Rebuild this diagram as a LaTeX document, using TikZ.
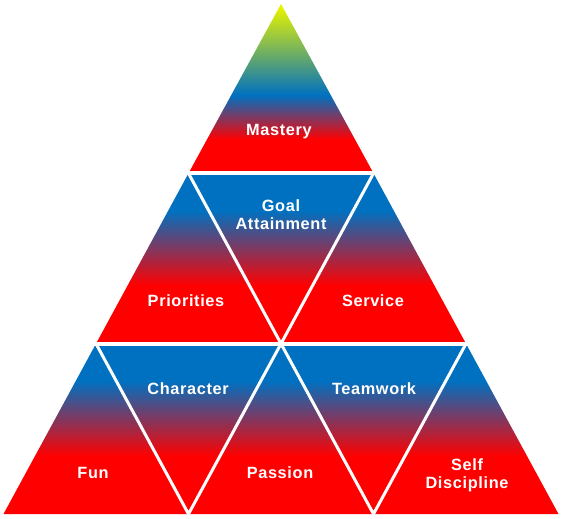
\documentclass[tikz,border=0pt]{standalone}
\usepackage{fontspec}
\setsansfont{Liberation Sans}[LetterSpace=4]
\usepackage{tikz}

\definecolor{tierblue}{RGB}{0,112,192}
\definecolor{tierred}{RGB}{255,0,0}
\definecolor{tipyellow}{RGB}{230,242,0}

\pgfdeclareverticalshading{tiershade}{100bp}{color(0bp)=(tierred); color(42bp)=(tierred); color(64bp)=(tierblue); color(100bp)=(tierblue)}
\pgfdeclareverticalshading{tipshade}{100bp}{color(0bp)=(tierred); color(35bp)=(tierred); color(48bp)=(tierblue); color(74bp)=(tipyellow); color(100bp)=(tipyellow)}

\tikzset{
  tierlabel/.style={text=white, font=\sffamily\bfseries\fontsize{16.3}{17.5}\selectfont, align=center, inner sep=0pt},
  rowgap/.style={draw=white, line width=4, shorten <=-4, shorten >=-4},
  slantgap/.style={draw=white, line width=3}
}

\begin{document}
\begin{tikzpicture}[x=1pt, y=-1pt]
            \useasboundingbox (0,0) rectangle (562,519);

            % corners of the pyramid, row by row
            \coordinate (A) at (281, 4);
            \coordinate (B1) at (188.5, 173.3);
            \coordinate (B2) at (373.5, 173.3);
            \coordinate (C1) at (96, 343.7);
            \coordinate (C2) at (281, 343.7);
            \coordinate (C3) at (466, 343.7);
            \coordinate (D1) at (3.5, 514);
            \coordinate (D2) at (188.5, 514);
            \coordinate (D3) at (373.5, 514);
            \coordinate (D4) at (558.5, 514);

            % top
            \shade[shading=tipshade] (A) -- (B1) -- (B2) -- cycle;

            % middle row
            \shade[shading=tiershade] (B1) -- (C1) -- (C2) -- cycle;
            \shade[shading=tiershade] (B1) -- (B2) -- (C2) -- cycle;
            \shade[shading=tiershade] (B2) -- (C2) -- (C3) -- cycle;

            % bottom row
            \shade[shading=tiershade] (C1) -- (D1) -- (D2) -- cycle;
            \shade[shading=tiershade] (C1) -- (C2) -- (D2) -- cycle;
            \shade[shading=tiershade] (C2) -- (D2) -- (D3) -- cycle;
            \shade[shading=tiershade] (C2) -- (C3) -- (D3) -- cycle;
            \shade[shading=tiershade] (C3) -- (D3) -- (D4) -- cycle;

            % white seams
            \draw[rowgap] (B1) -- (B2);
            \draw[rowgap] (C1) -- (C3);
            \draw[slantgap] (B1) -- (C2) -- (B2);
            \draw[slantgap] (C1) -- (D2) -- (C2) -- (D3) -- (C3);

            \node[tierlabel, anchor=base] (mastery) at (279, 135) {Mastery};
            \node[tierlabel, anchor=base] (goal) at (281, 229) {Goal\\Attainment};
            \node[tierlabel, anchor=base] (priorities) at (186, 306) {Priorities};
            \node[tierlabel, anchor=base] (service) at (373, 306) {Service};
            \node[tierlabel, anchor=base] (character) at (188, 394) {Character};
            \node[tierlabel, anchor=base] (teamwork) at (374, 394) {Teamwork};
            \node[tierlabel, anchor=base] (fun) at (93, 478) {Fun};
            \node[tierlabel, anchor=base] (passion) at (280, 478) {Passion};
            \node[tierlabel, anchor=base] (selfdisc) at (467, 488) {Self\\Discipline};
\end{tikzpicture}
\end{document}
